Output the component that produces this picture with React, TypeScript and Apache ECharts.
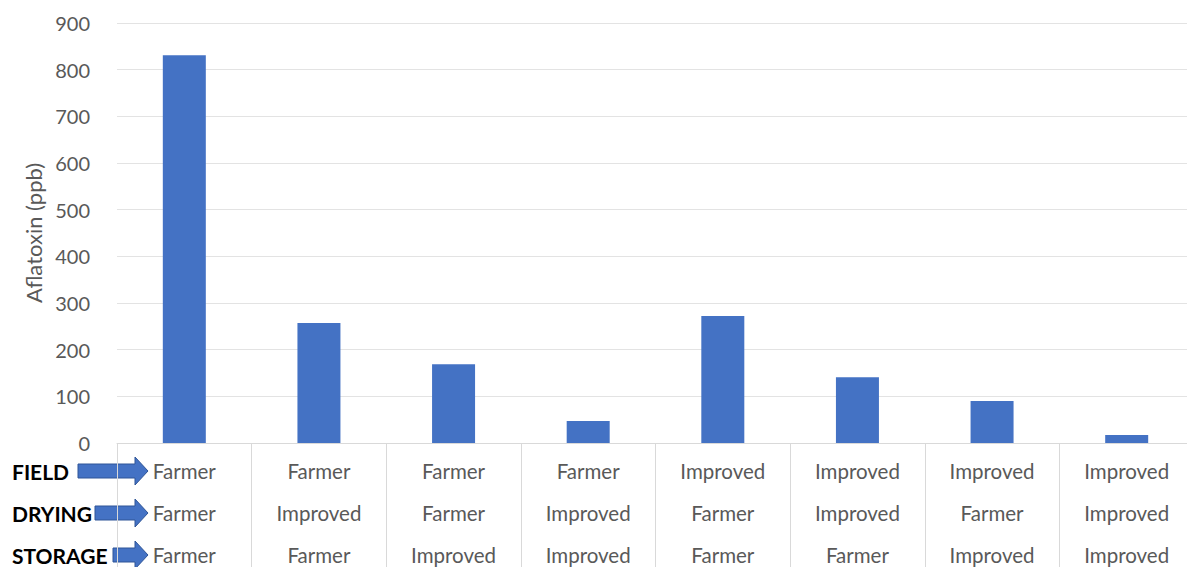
import React, { useEffect, useRef } from "react";
import * as echarts from "echarts";

const fieldLevels = ["Farmer", "Farmer", "Farmer", "Farmer", "Improved", "Improved", "Improved", "Improved"];
const dryingLevels = ["Farmer", "Improved", "Farmer", "Improved", "Farmer", "Improved", "Farmer", "Improved"];
const storageLevels = ["Farmer", "Farmer", "Improved", "Improved", "Farmer", "Farmer", "Improved", "Improved"];
const aflatoxinValues = [831, 257, 169, 47, 272, 141, 90, 17];
const rowLabels = ["FIELD", "DRYING", "STORAGE"];
const yTicks = { min: 0, max: 900, interval: 100 };

const FONT = "Lato, 'Noto Sans', sans-serif";
const BLUE = "#4472C4";

function arrowPoints(x0: number, x1: number, cy: number): number[][] {
  const shaft = 7;
  const head = 14;
  const headLen = 13;
  const hx = x1 - headLen;
  return [
    [x0, cy - shaft],
    [hx, cy - shaft],
    [hx, cy - head],
    [x1, cy],
    [hx, cy + head],
    [hx, cy + shaft],
    [x0, cy + shaft],
  ];
}

export default function App() {
  const ref = useRef<HTMLDivElement>(null);
  useEffect(() => {
    document.body.style.margin = "0";
    if (!ref.current) return;
    const chart = echarts.init(ref.current, null, { renderer: "svg" });
    const categories = fieldLevels.map((f, i) => `${f}\n${dryingLevels[i]}\n${storageLevels[i]}`);
    const rowY = [471, 513, 555];
    const arrowStart = [78, 95, 113];
    chart.setOption({
      animation: false,
      backgroundColor: "#ffffff",
      grid: { left: 117, top: 23, height: 420, width: 1077, containLabel: false, outerBoundsMode: "none" },
      xAxis: {
        type: "category",
        data: categories,
        boundaryGap: true,
        axisLine: { show: true, lineStyle: { color: "#d9d9d9", width: 1 } },
        axisTick: { show: true, interval: 0, length: 124, lineStyle: { color: "#d9d9d9", width: 1 } },
        axisLabel: {
          interval: 0,
          margin: 7,
          color: "#595959",
          fontFamily: FONT,
          fontSize: 20.5,
          lineHeight: 42,
        },
      },
      yAxis: {
        type: "value",
        min: yTicks.min,
        max: yTicks.max,
        interval: yTicks.interval,
        name: "Aflatoxin (ppb)",
        nameLocation: "middle",
        nameGap: 72,
        nameRotate: 90,
        nameTextStyle: { color: "#595959", fontFamily: FONT, fontSize: 22 },
        axisLine: { show: false },
        axisTick: { show: false },
        axisLabel: { color: "#595959", fontFamily: FONT, fontSize: 20, margin: 27 },
        splitLine: { lineStyle: { color: "#e3e3e3", width: 1 } },
      },
      series: [
        {
          type: "bar",
          data: aflatoxinValues,
          barWidth: 43,
          itemStyle: { color: BLUE },
        },
      ],
      graphic: [
        ...rowLabels.map((t, i) => ({
          type: "text",
          x: 12,
          y: rowY[i],
          style: { text: t, fill: "#000000", font: `bold 21px ${FONT}`, verticalAlign: "middle" },
        })),
        ...rowLabels.map((_, i) => ({
          type: "polygon",
          shape: { points: arrowPoints(arrowStart[i], 148, rowY[i]) },
          style: { fill: BLUE, stroke: "#2F5597", lineWidth: 1 },
        })),
      ],
    });
    return () => chart.dispose();
  }, []);
  return <div ref={ref} style={{ width: 1187, height: 567, position: "absolute", left: 0, top: 0 }} />;
}
